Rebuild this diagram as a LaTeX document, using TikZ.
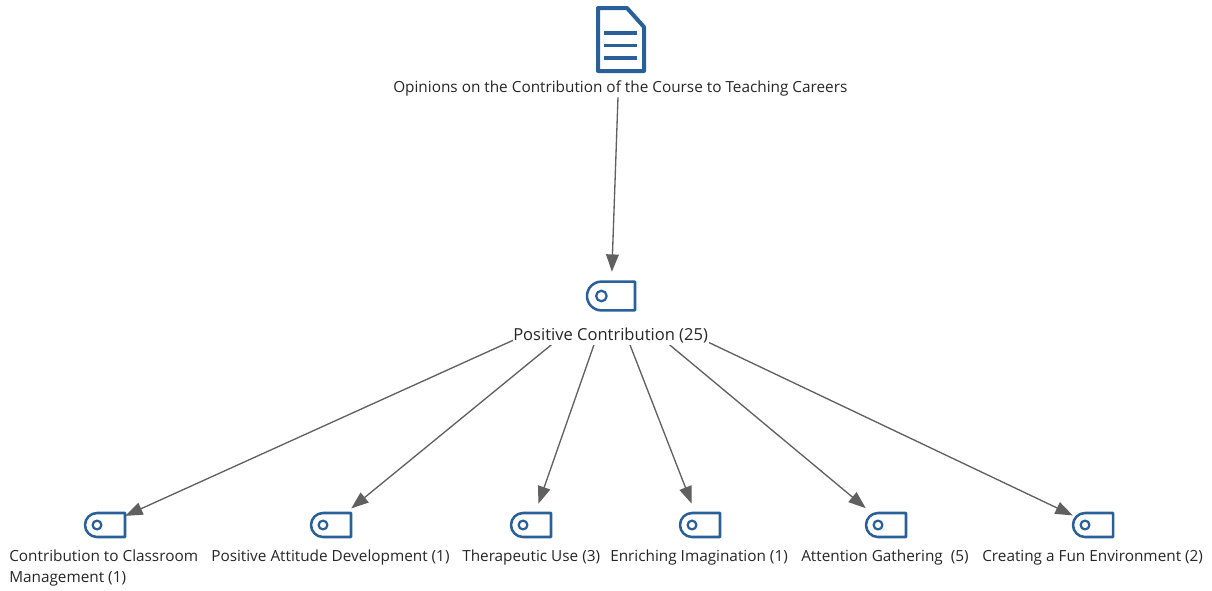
\documentclass[tikz,border=0pt]{standalone}
\usepackage{fontspec}
\setmainfont{Open Sans}
\usetikzlibrary{arrows.meta}
\definecolor{iconblue}{HTML}{2A6099}
\definecolor{edgegray}{HTML}{606060}
\definecolor{labelgray}{HTML}{262626}
\tikzset{
  x=0.75pt,y=-0.75pt,
  anchorbox/.style={rectangle,inner sep=0pt,minimum width=30pt,minimum height=31.5pt},
  hubbox/.style={rectangle,inner sep=0pt,minimum width=36pt,minimum height=36pt},
  docbox/.style={rectangle,inner sep=0pt,minimum width=36pt,minimum height=85.5pt},
  iconline/.style={draw=iconblue,line width=1.9pt,line join=round},
  label/.style={font=\fontsize{11.5pt}{15.75pt}\selectfont,text=labelgray,inner sep=0pt,align=left},
  hublabel/.style={label,font=\fontsize{12.4pt}{15.75pt}\selectfont},
  link/.style={draw=edgegray,line width=1pt,-{Triangle[length=13pt,width=9.5pt]}},
}
\newcommand{\tagicon}[3]{%
  \begin{scope}[shift={(#1,#2)},xscale=#3,yscale=#3]
    \draw[iconline] (20,-12) -- (-8,-12) .. controls (-14.6,-12) and (-20,-6.6) .. (-20,0) .. controls (-20,6.6) and (-14.6,12) .. (-8,12) -- (20,12) -- cycle;
    \draw[iconline,line width=1.7pt] (-8,0) circle (4.4);
  \end{scope}}
\begin{document}
\begin{tikzpicture}
\useasboundingbox (0,0) rectangle (1212,590);
\node[docbox] (doc) at (620,40) {};
\node[hubbox] (hub) at (611,296) {};
\node[anchorbox] (t1) at (105,525) {};
\node[anchorbox] (t2) at (331,525) {};
\node[anchorbox] (t3) at (531,525) {};
\node[anchorbox] (t4) at (700,525) {};
\node[anchorbox] (t5) at (886,525) {};
\node[anchorbox] (t6) at (1093,525) {};
\draw[link] (doc) -- (hub);
\foreach \t in {t1,t2,t3,t4,t5,t6} \draw[link] (hub) -- (\t);
\fill[white] (513,300) rectangle (709,345);
% document icon
\draw[iconline,line width=3pt] (598,8) -- (627,8) -- (644,27) -- (644,71) -- (598,71) -- cycle;
\draw[iconline,line width=2.6pt] (604,33) -- (637,33) (604,45.5) -- (637,45.5) (604,58) -- (637,58);
\tagicon{611}{296}{1.2}
\tagicon{105}{525}{1}
\tagicon{331}{525}{1}
\tagicon{531}{525}{1}
\tagicon{700}{525}{1}
\tagicon{886}{525}{1}
\tagicon{1093}{525}{1}
\node[label,anchor=base west] (ldoc) at (393,92) {Opinions on the Contribution of the Course to Teaching Careers};
\node[hublabel,anchor=base west] (lhub) at (513,340) {Positive Contribution (25)};
\node[label,anchor=base west] (l1) at (9,582) {Contribution to Classroom\\Management (1)};
\node[label,anchor=base west] (l2) at (211,561) {Positive Attitude Development (1)};
\node[label,anchor=base west] (l3) at (462,561) {Therapeutic Use (3)};
\node[label,anchor=base west] (l4) at (610,561) {Enriching Imagination (1)};
\node[label,anchor=base west] (l5) at (801,561) {Attention Gathering\ \ (5)};
\node[label,anchor=base west] (l6) at (982,561) {Creating a Fun Environment (2)};
\end{tikzpicture}
\end{document}
